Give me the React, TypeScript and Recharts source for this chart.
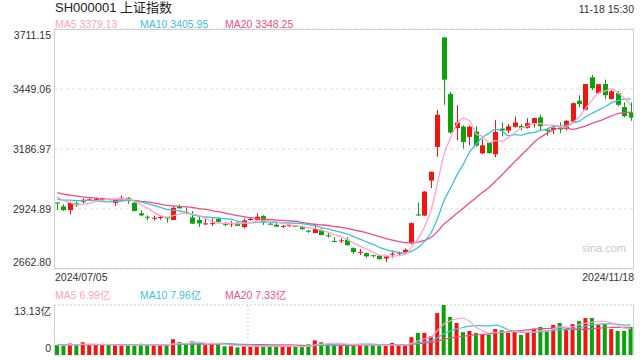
import React from "react";
import {
  ComposedChart,
  Bar,
  Line,
  XAxis,
  YAxis,
  CartesianGrid,
  Cell,
  ReferenceLine,
} from "recharts";

const RED = "#f2140f";
const GREEN = "#0ba30b";
const MA5_COLOR = "#ffa3c6";
const MA10_COLOR = "#3cc3de";
const MA20_COLOR = "#ef4f85";
const FONT = "'Liberation Sans', Arial, 'Noto Sans CJK SC', sans-serif";

// 2024/07/05 .. 2024/11/18, 90 trading days
const dates = [
  "07/05", "07/08", "07/09", "07/10", "07/11", "07/12", "07/15", "07/16", "07/17", "07/18",
  "07/19", "07/22", "07/23", "07/24", "07/25", "07/26", "07/29", "07/30", "07/31", "08/01",
  "08/02", "08/05", "08/06", "08/07", "08/08", "08/09", "08/12", "08/13", "08/14", "08/15",
  "08/16", "08/19", "08/20", "08/21", "08/22", "08/23", "08/26", "08/27", "08/28", "08/29",
  "08/30", "09/02", "09/03", "09/04", "09/05", "09/06", "09/09", "09/10", "09/11", "09/12",
  "09/13", "09/18", "09/19", "09/20", "09/23", "09/24", "09/25", "09/26", "09/27", "09/30",
  "10/08", "10/09", "10/10", "10/11", "10/14", "10/15", "10/16", "10/17", "10/18", "10/21",
  "10/22", "10/23", "10/24", "10/25", "10/28", "10/29", "10/30", "10/31", "11/01", "11/04",
  "11/05", "11/06", "11/07", "11/08", "11/11", "11/12", "11/13", "11/14", "11/15", "11/18",
];

const opens = [
  2953, 2936, 2920, 2950, 2957, 2964, 2965, 2967, 2968, 2951,
  2967, 2974, 2952, 2906, 2891, 2883, 2886, 2888, 2877, 2936,
  2912, 2888, 2877, 2860, 2860, 2881, 2860, 2859, 2865, 2846,
  2878, 2877, 2894, 2861, 2856, 2849, 2851, 2852, 2847, 2830,
  2820, 2833, 2810, 2785, 2785, 2791, 2754, 2735, 2732, 2723,
  2721, 2709, 2727, 2730, 2736, 2775, 2901, 2896, 3049, 3196,
  3674.4, 3427, 3278, 3285, 3240, 3263, 3168, 3215, 3164, 3276,
  3267, 3284, 3288, 3280, 3300, 3325, 3272, 3271, 3278, 3274,
  3306, 3398, 3358, 3500, 3431, 3471, 3405, 3431, 3370, 3347,
];

const highs = [
  2954, 2945, 2957, 2955, 2971, 2971, 2975, 2974, 2971, 2971,
  2984, 2977, 2957, 2919, 2897, 2896, 2897, 2889, 2936, 2945,
  2931, 2916, 2890, 2882, 2884, 2887, 2868, 2872, 2868, 2884,
  2888, 2906, 2898, 2865, 2863, 2855, 2858, 2855, 2852, 2834,
  2862, 2840, 2820, 2802, 2797, 2802, 2757, 2750, 2735, 2725,
  2723, 2722, 2743, 2739, 2753, 2866, 2953, 3003, 3088, 3358,
  3674.4, 3437, 3378, 3290, 3290, 3285, 3230, 3218, 3313, 3303,
  3296, 3329, 3296, 3321, 3324, 3335, 3280, 3291, 3303, 3312,
  3390, 3422, 3471, 3510, 3471, 3490, 3444, 3440, 3391, 3390,
];

const lows = [
  2920, 2916, 2901, 2935, 2948, 2960, 2962, 2963, 2963, 2938,
  2960, 2948, 2915, 2893, 2875, 2875, 2878, 2865, 2876, 2927,
  2901, 2860, 2846, 2855, 2850, 2865, 2850, 2846, 2850, 2840,
  2874, 2876, 2855, 2855, 2847, 2843, 2846, 2847, 2834, 2820,
  2819, 2810, 2800, 2780, 2777, 2764, 2728, 2724, 2712, 2713,
  2704, 2693, 2712, 2724, 2734, 2770, 2896, 2895, 3016, 3153,
  3380, 3255, 3225, 3189, 3203, 3198, 3165, 3166, 3151, 3242,
  3255, 3280, 3268, 3276, 3281, 3270, 3245, 3252, 3256, 3268,
  3300, 3369, 3357, 3444, 3427, 3405, 3404, 3373, 3325, 3310,
];

const closes = [
  2951, 2920, 2952, 2941, 2965, 2967, 2971, 2970, 2966, 2967,
  2974, 2967, 2916, 2897, 2888, 2887, 2890, 2884, 2930, 2928,
  2907, 2861, 2862, 2862, 2863, 2869, 2857, 2862, 2851, 2875,
  2881, 2891, 2867, 2858, 2848, 2851, 2854, 2849, 2837, 2826,
  2837, 2811, 2806, 2782, 2788, 2767, 2737, 2738, 2718, 2719,
  2706, 2718, 2730, 2734, 2747, 2863.13, 2896.31, 3000.95, 3087.53, 3336.5,
  3489.78, 3258.86, 3301.93, 3217.74, 3284.32, 3201.29, 3202.95, 3169.38, 3261.56, 3268.11,
  3285.87, 3302.8, 3280.26, 3299.7, 3322.2, 3286.41, 3266.24, 3279.82, 3272.01, 3310.21,
  3386.99, 3383.81, 3470.66, 3452.3, 3470.07, 3421.97, 3439.28, 3379.84, 3330.73, 3323.85,
];

// volume, 亿
const volumes = [
  2.6, 2.6, 3.0, 2.6, 3.35, 2.7, 2.6, 2.6, 2.6, 2.6,
  2.6, 2.6, 2.6, 2.95, 2.6, 2.6, 2.6, 2.6, 4.15, 3.4,
  2.7, 3.6, 3.0, 2.6, 2.9, 2.95, 2.3, 2.3, 2.0, 2.3,
  2.3, 2.3, 2.3, 2.3, 2.3, 2.3, 2.3, 2.1, 2.1, 2.8,
  3.85, 3.35, 2.8, 2.8, 2.5, 2.8, 2.8, 2.5, 2.5, 2.5,
  2.5, 2.5, 3.15, 2.5, 2.5, 4.7, 5.8, 5.8, 4.9, 11.0,
  13.13, 10.0, 8.4, 6.0, 6.3, 5.8, 5.4, 5.4, 6.8, 6.5,
  5.8, 6.3, 5.25, 5.8, 6.9, 7.35, 6.3, 7.9, 8.4, 6.65,
  8.1, 8.9, 9.7, 9.7, 7.9, 8.1, 6.8, 6.3, 6.3, 7.35,
];

// sessions before 07/05, used only to start the moving averages
const prevCloses = [
  3051.28, 3028.05, 3037.47, 3028.92, 3032.63, 3015.89, 3030.25, 3018.05, 2998.14, 2998.14,
  2963.1, 2950.0, 2972.53, 2945.85, 2967.4, 2994.73, 2997.01, 2982.38, 2957.57,
];
const prevVolumes = [
  2.9, 2.8, 2.6, 2.7, 2.9, 2.6, 2.5, 2.7, 2.8, 2.6,
  2.9, 2.7, 2.6, 2.8, 3.0, 2.6, 2.7, 2.5, 2.6,
];

const priceTicks = [2662.8, 2924.89, 3186.97, 3449.06, 3711.15];
const volTicks = [0, 13.13];
const volTickLabels = ["0", "13.13亿"];
const priceLegend = ["MA5 3379.13", "MA10 3405.95", "MA20 3348.25"];
const volLegend = ["MA5 6.99亿", "MA10 7.96亿", "MA20 7.33亿"];

function movingAvg(series: number[], prev: number[], n: number) {
  const all = [...prev, ...series];
  return series.map((_, i) => {
    const end = prev.length + i + 1;
    const win = all.slice(Math.max(0, end - n), end);
    return win.reduce((a, b) => a + b, 0) / win.length;
  });
}

const ma5 = movingAvg(closes, prevCloses, 5);
const ma10 = movingAvg(closes, prevCloses, 10);
const ma20 = movingAvg(closes, prevCloses, 20);
const vma5 = movingAvg(volumes, prevVolumes, 5);
const vma10 = movingAvg(volumes, prevVolumes, 10);
const vma20 = movingAvg(volumes, prevVolumes, 20);

const rows = dates.map((date, i) => ({
  i,
  date,
  open: opens[i],
  high: highs[i],
  low: lows[i],
  close: closes[i],
  vol: volumes[i],
  ma5: ma5[i],
  ma10: ma10[i],
  ma20: ma20[i],
  vma5: vma5[i],
  vma10: vma10[i],
  vma20: vma20[i],
}));

const Candle = (props: any) => {
  const { x, y, width, height, payload } = props;
  const { open, close, high, low } = payload;
  const span = high - low || 1;
  const py = (v: number) => y + ((high - v) / span) * height;
  const color = close >= open ? RED : GREEN;
  const cx = Math.floor(x + width / 2);
  const top = py(Math.max(open, close));
  const bot = py(Math.min(open, close));
  return (
    <g>
      <line x1={cx + 0.5} x2={cx + 0.5} y1={y} y2={y + height} stroke={color} strokeWidth={1} />
      <rect x={cx - 2} y={top} width={5} height={Math.max(bot - top, 1)} fill={color} />
    </g>
  );
};

const PriceTick = (props: any) => {
  const { x, y, payload } = props;
  const v = payload.value;
  let dy = 0;
  if (v === priceTicks[priceTicks.length - 1]) dy = 6;
  if (v === priceTicks[0]) dy = -6.5;
  return (
    <text x={x} y={y + dy} dy="0.35em" textAnchor="end" fontSize={10.5} fill="#333" fontFamily={FONT}>
      {v.toFixed(2)}
    </text>
  );
};

const VolTick = (props: any) => {
  const { x, y, payload } = props;
  const idx = volTicks.indexOf(payload.value);
  const dy = idx === 0 ? -7 : 6;
  return (
    <text x={x} y={y + dy} dy="0.35em" textAnchor="end" fontSize={10.5} fill="#333" fontFamily={FONT}>
      {volTickLabels[idx]}
    </text>
  );
};

function Txt({ x, y, color = "#333", size = 10.5, anchor = "start", children }: any) {
  const style: React.CSSProperties = {
    position: "absolute",
    top: y - size * 0.6,
    fontSize: size,
    lineHeight: `${size * 1.2}px`,
    color,
    whiteSpace: "nowrap",
  };
  if (anchor === "end") style.right = 640 - x;
  else style.left = x;
  return <div style={style}>{children}</div>;
}

const legendColors = [MA5_COLOR, MA10_COLOR, MA20_COLOR];
const legendX = [55, 140, 225];

export default function App() {
  return (
    <div
      style={{
        position: "absolute",
        left: 0,
        top: 0,
        width: 640,
        height: 360,
        background: "#fff",
        fontFamily: FONT,
        overflow: "hidden",
      }}
    >
      <div style={{ position: "absolute", left: 0, top: 0 }}>
        <ComposedChart width={640} height={280} data={rows} margin={{ top: 29, right: 6, bottom: 11, left: 0 }}>
          <CartesianGrid vertical={false} stroke="#dcdcdc" strokeDasharray="3 3" />
          <XAxis dataKey="i" type="number" domain={[-0.5, 89.5]} hide />
          <YAxis
            type="number"
            domain={[priceTicks[0], priceTicks[priceTicks.length - 1]]}
            ticks={priceTicks}
            interval={0}
            width={54}
            axisLine={false}
            tickLine={false}
            tickSize={0}
            tickMargin={3}
            tick={<PriceTick />}
          />
          <Bar dataKey={(d: any) => [d.low, d.high]} barSize={5} shape={<Candle />} isAnimationActive={false} />
          <Line type="monotone" dataKey="ma20" stroke={MA20_COLOR} strokeWidth={1.3} dot={false} isAnimationActive={false} />
          <Line type="monotone" dataKey="ma10" stroke={MA10_COLOR} strokeWidth={1.3} dot={false} isAnimationActive={false} />
          <Line type="monotone" dataKey="ma5" stroke={MA5_COLOR} strokeWidth={1.3} dot={false} isAnimationActive={false} />
        </ComposedChart>
      </div>
      <div
        style={{
          position: "absolute",
          left: 54,
          top: 29,
          width: 580,
          height: 240,
          border: "1px solid #d0d0d0",
          boxSizing: "border-box",
          pointerEvents: "none",
        }}
      />

      <div style={{ position: "absolute", left: 0, top: 280 }}>
        <ComposedChart width={640} height={80} data={rows} margin={{ top: 25, right: 6, bottom: 5, left: 0 }}>
          <CartesianGrid vertical={false} stroke="#d0d0d0" strokeDasharray="2 2" />
          <XAxis dataKey="i" type="number" domain={[-0.5, 89.5]} hide />
          <YAxis
            type="number"
            domain={[0, 13.13]}
            ticks={volTicks}
            interval={0}
            width={54}
            axisLine={false}
            tickLine={false}
            tickSize={0}
            tickMargin={3}
            tick={<VolTick />}
          />
          <ReferenceLine x={29.6} stroke="#d0d0d0" strokeDasharray="2 2" />
          <Bar dataKey="vol" barSize={4} isAnimationActive={false}>
            {rows.map((r, idx) => (
              <Cell key={`v-${idx}`} fill={r.close >= r.open ? RED : GREEN} />
            ))}
          </Bar>
          <Line type="monotone" dataKey="vma20" stroke={MA20_COLOR} strokeWidth={1.2} dot={false} isAnimationActive={false} />
          <Line type="monotone" dataKey="vma10" stroke={MA10_COLOR} strokeWidth={1.2} dot={false} isAnimationActive={false} />
          <Line type="monotone" dataKey="vma5" stroke={MA5_COLOR} strokeWidth={1.2} dot={false} isAnimationActive={false} />
        </ComposedChart>
      </div>
      <div style={{ position: "absolute", left: 54, top: 305, width: 1, height: 50, background: "#d0d0d0" }} />
      <div style={{ position: "absolute", left: 633, top: 305, width: 1, height: 50, background: "#d0d0d0" }} />

      <Txt x={55} y={8} size={13} color="#222">SH000001 上证指数</Txt>
      <Txt x={634} y={9} anchor="end" color="#333">11-18 15:30</Txt>
      {priceLegend.map((t, k) => (
        <Txt key={t} x={legendX[k]} y={24.5} color={legendColors[k]}>{t}</Txt>
      ))}
      <Txt x={55} y={277} color="#333">2024/07/05</Txt>
      <Txt x={634} y={277} anchor="end" color="#333">2024/11/18</Txt>
      <Txt x={582} y={249} size={11} color="#c8c8c8">sina.com</Txt>
      {volLegend.map((t, k) => (
        <Txt key={t} x={legendX[k]} y={295.5} color={legendColors[k]}>{t}</Txt>
      ))}
    </div>
  );
}
